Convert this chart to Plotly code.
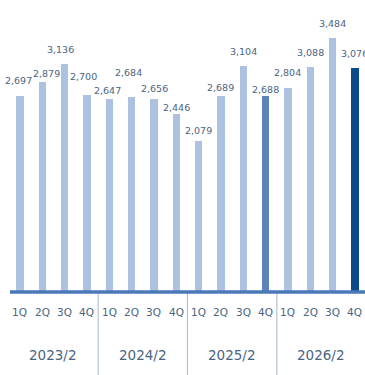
import plotly.graph_objects as go

# Quarterly values by fiscal year
years = ["2023/2", "2024/2", "2025/2", "2026/2"]
quarters = ["1Q", "2Q", "3Q", "4Q"]
values = [
    2697, 2879, 3136, 2700,
    2647, 2684, 2656, 2446,
    2079, 2689, 3104, 2688,
    2804, 3088, 3484, 3076,
]
value_labels = [f"{v:,}" for v in values]

# Per-label nudges (pixels) so neighbouring labels don't collide
label_lift = [15, 9, 14, 19, 9, 24, 10, 6, 10, 9, 15, 7, 15, 15, 15, 15]
label_dx = [-1, 4, -4, -3, -1.5, -3, 1, 0, 0, 0, 0, 0, 0, 0, 0, 0]

LIGHT = "#adc1e1"
MID = "#5b85b8"
DARK = "#0d4a8c"
bar_colors = [LIGHT] * 16
bar_colors[11] = MID
bar_colors[15] = DARK

TEXT = "#4a6480"
FONT = "DejaVu Sans"

xs = list(range(len(values)))

fig = go.Figure()
fig.add_trace(go.Bar(
    x=xs, y=values, width=0.34,
    marker=dict(color=bar_colors, line=dict(width=0)),
    hoverinfo="skip",
))

annotations = []
for x, v, lab, dy, dx in zip(xs, values, value_labels, label_lift, label_dx):
    annotations.append(dict(
        x=x, y=v, xref="x", yref="y", text=lab, showarrow=False,
        yanchor="middle", yshift=dy, xshift=dx,
        font=dict(family=FONT, size=9.5, color=TEXT),
    ))

H = 375
# Quarter tick labels under the axis line
for i, x in enumerate(xs):
    annotations.append(dict(
        x=x, y=1 - 312 / H, xref="x", yref="paper", text=quarters[i % 4],
        showarrow=False, yanchor="middle",
        font=dict(family=FONT, size=10.5, color=TEXT),
    ))

# Year group labels
for g, yr in enumerate(years):
    annotations.append(dict(
        x=g * 4 + 1.5, y=1 - 355 / H, xref="x", yref="paper", text=yr,
        showarrow=False, yanchor="middle",
        font=dict(family=FONT, size=13.5, color=TEXT),
    ))

shapes = []
# Group separators
for g in range(1, 4):
    shapes.append(dict(
        type="line", xref="x", yref="y", x0=g * 4 - 0.5, x1=g * 4 - 0.5,
        y0=0, y1=-1200, line=dict(color="#b5c2cf", width=1.2),
    ))
# Base axis line
shapes.append(dict(
    type="line", xref="x", yref="y", x0=-0.45, x1=15.5, y0=0, y1=0,
    line=dict(color="#4a79b8", width=3.5),
))

fig.update_layout(
    width=365, height=375,
    margin=dict(l=0, r=0, t=0, b=0),
    paper_bgcolor="white", plot_bgcolor="white",
    showlegend=False,
    xaxis=dict(range=[-0.895, 15.448], visible=False, fixedrange=True),
    yaxis=dict(range=[-1140, 4011], visible=False, fixedrange=True),
    annotations=annotations,
    shapes=shapes,
    bargap=0,
)

fig.write_html("out.html", config={"displayModeBar": False})
